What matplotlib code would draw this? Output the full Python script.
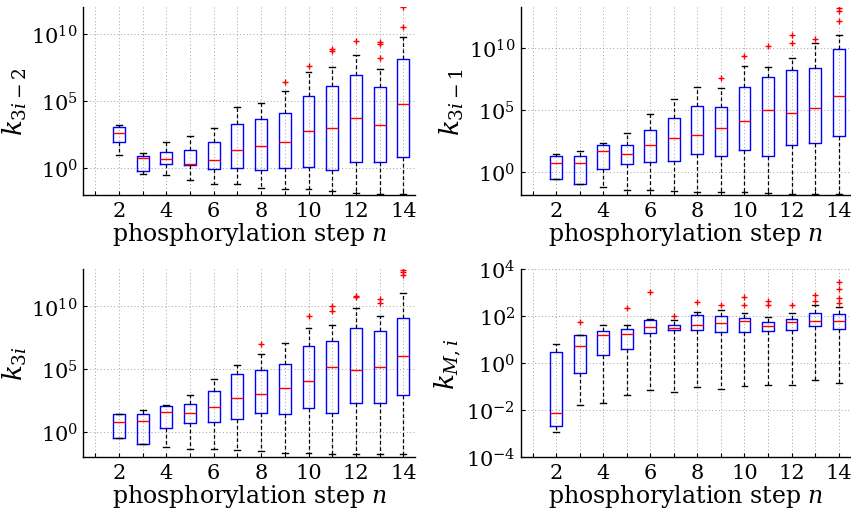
import numpy as np
import matplotlib as mpl
mpl.use("Agg")
import matplotlib.pyplot as plt
from matplotlib.ticker import FixedLocator, NullLocator, LogFormatterSciNotation


mpl.rcParams.update(
    {'font.family': 'DejaVu Serif', 'mathtext.fontset': 'dejavuserif',
     'axes.unicode_minus': False}
    )

# phosphorylation steps that have a box (step 1 stays empty)
steps = list(range(2, 15))

# all values are log10 of the rate constants
# panel 1: k_{3i-2}
k1_q1 = [1.94, -0.25, 0.27, 0.22, -0.05, 0.00, -0.17, 0.00, 0.05, -0.12, 0.45, 0.45, 0.80]
k1_med = [2.59, 0.77, 0.67, 0.30, 0.62, 1.34, 1.64, 1.94, 2.79, 2.99, 3.76, 3.23, 4.75]
k1_q3 = [3.08, 0.87, 1.22, 1.34, 1.97, 3.28, 3.63, 4.10, 5.35, 6.14, 6.94, 6.04, 8.11]
k1_lo = [1.00, -0.42, -0.50, -0.90, -1.17, -1.17, -1.49, -1.59, -1.59, -1.74, -1.84, -1.92, -1.95]
k1_hi = [3.23, 1.09, 1.94, 2.41, 2.99, 4.55, 4.83, 5.77, 7.16, 7.54, 8.41, 7.34, 9.73]
k1_out = [[], [], [], [], [], [], [], [6.44], [7.59], [8.83, 8.71], [9.45],
          [9.38, 9.20, 8.16], [12.0, 10.5]]

# panel 2: k_{3i-1}
k2_q1 = [-0.59, -0.97, 0.19, 0.59, 0.75, 0.91, 1.47, 1.31, 1.74, 1.31, 2.17, 2.36, 2.90]
k2_med = [0.72, 0.72, 1.69, 1.42, 2.17, 2.76, 2.98, 3.54, 4.10, 4.96, 4.77, 5.17, 6.09]
k2_q3 = [1.31, 1.31, 2.14, 2.20, 3.38, 4.32, 5.28, 5.20, 6.84, 7.64, 8.18, 8.36, 9.87]
k2_lo = [-0.59, -0.97, -1.26, -1.45, -1.50, -1.55, -1.61, -1.66, -1.66, -1.74, -1.80, -1.80, -1.80]
k2_hi = [1.47, 1.69, 2.31, 3.11, 4.64, 5.87, 6.86, 6.78, 8.55, 8.45, 9.20, 10.35, 10.99]
k2_out = [[], [], [], [], [], [], [], [7.59], [9.33], [10.13], [11.02, 10.40],
          [10.67], [13.2, 12.95, 12.14]]

# panel 3: k_{3i}
k3_q1 = [-0.52, -0.99, 0.31, 0.68, 0.79, 0.99, 1.49, 1.41, 1.88, 1.49, 2.28, 2.28, 2.98]
k3_med = [0.76, 0.89, 1.62, 1.49, 2.02, 2.70, 3.04, 3.53, 4.06, 5.21, 4.95, 5.18, 6.07]
k3_q3 = [1.44, 1.44, 2.07, 2.23, 3.25, 4.61, 4.97, 5.39, 6.81, 7.25, 8.30, 8.06, 9.08]
k3_lo = [-0.52, -0.99, -1.20, -1.34, -1.34, -1.47, -1.52, -1.65, -1.65, -1.73, -1.73, -1.73, -1.78]
k3_hi = [1.44, 1.75, 2.15, 2.98, 4.21, 5.37, 6.18, 7.12, 8.25, 8.48, 9.84, 9.24, 11.05]
k3_out = [[], [], [], [], [], [], [6.99], [], [9.27], [10.0, 9.66], [10.84, 10.73],
          [10.58, 10.26], [12.93, 12.75, 12.49]]

# panel 4: k_{M,i}
k4_q1 = [-2.68, -0.45, 0.34, 0.61, 1.27, 1.38, 1.38, 1.30, 1.32, 1.34, 1.39, 1.55, 1.45]
k4_med = [-2.11, 0.73, 1.20, 1.24, 1.52, 1.48, 1.59, 1.70, 1.76, 1.56, 1.75, 1.79, 1.77]
k4_q3 = [0.48, 1.17, 1.35, 1.42, 1.82, 1.63, 2.04, 2.01, 1.92, 1.73, 1.85, 2.14, 2.07]
k4_lo = [-2.93, -1.79, -1.72, -1.38, -1.15, -1.25, -1.03, -1.10, -0.97, -0.94, -0.92, -0.72, -0.85]
k4_hi = [0.79, 1.17, 1.59, 1.61, 1.85, 1.83, 2.17, 2.23, 2.11, 1.97, 2.11, 2.46, 2.39]
k4_out = [[], [1.72], [], [2.32], [3.01], [2.0], [2.58], [2.44], [2.79, 2.44],
          [2.65, 2.44], [2.44], [2.89, 2.63], [3.44, 3.13, 2.75, 2.54]]

ylabels = [r"$k_{3i-2}$", r"$k_{3i-1}$", r"$k_{3i}$", r"$k_{M,i}$"]
xticks_major = [2, 4, 6, 8, 10, 12, 14]
xticks_minor = [1, 3, 5, 7, 9, 11, 13]


def make_stats(q1, med, q3, lo, hi, out):
    stats = []
    for i in range(len(q1)):
        stats.append({'q1': 10 ** q1[i], 'med': 10 ** med[i], 'q3': 10 ** q3[i],
                      'whislo': 10 ** lo[i], 'whishi': 10 ** hi[i],
                      'fliers': [10 ** v for v in out[i]]})
    return stats


def draw_panel(ax, stats, ylab, ylim, yticks):
    ax.bxp(stats, positions=steps, widths=0.5, capwidths=0.25,
           boxprops={'color': '#0000ff', 'linewidth': 1.0},
           medianprops={'color': '#ff0000', 'linewidth': 1.0},
           whiskerprops={'color': 'k', 'linewidth': 0.9, 'linestyle': (0, (3, 2))},
           capprops={'color': 'k', 'linewidth': 1.0},
           flierprops={'marker': '+', 'markeredgecolor': '#ff0000',
                       'markersize': 5, 'markeredgewidth': 1.0},
           manage_ticks=False)
    ax.set_yscale('log')
    ax.set_ylim(ylim)
    ax.set_xlim(0.5, 14.5)
    ax.xaxis.set_major_locator(FixedLocator(xticks_major))
    ax.xaxis.set_minor_locator(FixedLocator(xticks_minor))
    ax.yaxis.set_major_locator(FixedLocator(yticks))
    ax.yaxis.set_major_formatter(LogFormatterSciNotation())
    ax.yaxis.set_minor_locator(NullLocator())
    gridkw = dict(linestyle=(0, (1, 2.5)), color='#a0a0a0', linewidth=0.7)
    ax.grid(True, which='major', **gridkw)
    ax.xaxis.grid(True, which='minor', **gridkw)
    ax.set_axisbelow(True)
    ax.spines['top'].set_visible(False)
    ax.spines['right'].set_visible(False)
    [ax.spines[s].set_linewidth(1.0) for s in ['left', 'bottom']]
    ax.tick_params(axis='both', which='both', direction='in', length=3, width=0.8)
    ax.tick_params(axis='x', labelsize=15, pad=4)
    ax.tick_params(axis='y', labelsize=15, pad=4)
    ax.set_xlabel(r"phosphorylation step $n$", size=17, labelpad=0)
    ax.set_ylabel(ylab, size=19, labelpad=2)


fig = plt.figure(figsize=(8.51, 5.10), dpi=100)
boxes = [[0.0979, 0.6157, 0.390, 0.369],
         [0.6119, 0.6157, 0.3875, 0.369],
         [0.0979, 0.102, 0.390, 0.369],
         [0.6119, 0.102, 0.3875, 0.369]]
panels = [
    (make_stats(k1_q1, k1_med, k1_q3, k1_lo, k1_hi, k1_out), (1e-2, 1e12), [1e0, 1e5, 1e10]),
    (make_stats(k2_q1, k2_med, k2_q3, k2_lo, k2_hi, k2_out), (10 ** -1.87, 10 ** 13.3), [1e0, 1e5, 1e10]),
    (make_stats(k3_q1, k3_med, k3_q3, k3_lo, k3_hi, k3_out), (1e-2, 1e13), [1e0, 1e5, 1e10]),
    (make_stats(k4_q1, k4_med, k4_q3, k4_lo, k4_hi, k4_out), (1e-4, 1e4), [1e-4, 1e-2, 1e0, 1e2, 1e4]),
]
for rect, (stats, ylim, yticks), ylab in zip(boxes, panels, ylabels):
    ax = fig.add_axes(rect)
    draw_panel(ax, stats, ylab, ylim, yticks)

plt.savefig("out.png", dpi=100)
plt.close()
